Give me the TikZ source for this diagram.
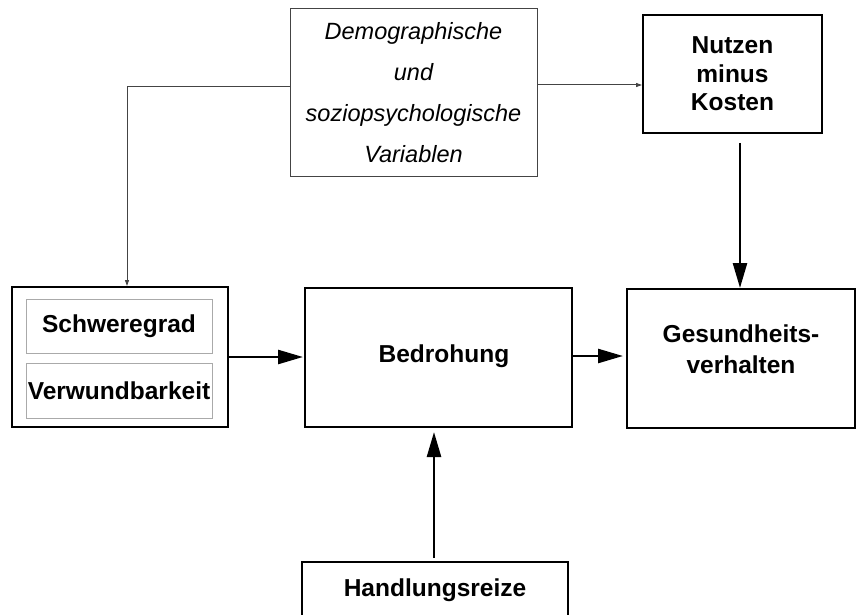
\documentclass[tikz,border=0pt]{standalone}
\usepackage{fontspec}
\setmainfont{Liberation Sans}
\usetikzlibrary{arrows.meta,calc}
\definecolor{thinline}{HTML}{444444}
\definecolor{innerline}{HTML}{AAAAAA}
\tikzset{
  thickbox/.style={draw=black,line width=2pt,inner sep=0pt,align=center,font=\fontsize{24.5}{30}\selectfont\bfseries},
  thinbox/.style={draw=thinline,line width=1pt,inner sep=0pt,align=center,font=\fontsize{23.5}{41}\selectfont\itshape},
  innerbox/.style={draw=innerline,line width=1pt,inner sep=0pt,align=center,font=\fontsize{24.5}{30}\selectfont\bfseries},
  bigarrow/.style={line width=2.5pt,-{Triangle[length=25pt,width=14pt]}},
  smallarrow/.style={draw=thinline,line width=1pt,-{Triangle[length=6pt,width=4pt]}}
}
\begin{document}
\begin{tikzpicture}[x=1pt,y=-1pt]
\useasboundingbox (0,0) rectangle (857,615);
\clip (0,0) rectangle (857,615);
\fill[white] (0,0) rectangle (857,615);
% nodes
\node[thinbox,minimum width=247pt,minimum height=168pt] (demo) at (413.5,93)
  {Demographische\\und\\soziopsychologische\\Variablen};
\node[thickbox,minimum width=179pt,minimum height=118pt,font=\fontsize{24.5}{28.5}\selectfont\bfseries] (nutzen) at (732.5,74)
  {Nutzen\\minus\\Kosten};
\node[thickbox,minimum width=216pt,minimum height=140pt] (left) at (120,357) {};
\node[innerbox,minimum width=186pt,minimum height=54pt] (schwere) at (119,326) {Schweregrad};
\node[innerbox,minimum width=186pt,minimum height=55pt] (verwund) at (119,390.5) {Verwundbarkeit};
\node[thickbox,minimum width=267pt,minimum height=139pt] (bedro) at (438.5,357.5) {};
\node[font=\fontsize{24.5}{30}\selectfont\bfseries,inner sep=0pt] (bedrotext) at (444,356) {Bedrohung};
\node[thickbox,minimum width=228pt,minimum height=139pt,font=\fontsize{24.5}{31}\selectfont\bfseries] (gesund) at (741,358.5) {};
\node[font=\fontsize{24.5}{31}\selectfont\bfseries,inner sep=0pt,align=center] (gesundtext) at (741,349) {Gesundheits-\\verhalten};
\node[thickbox,minimum width=266pt,minimum height=56pt] (handl) at (435,590) {Handlungsreize};
% thin connectors
\coordinate (corner) at (127,87);
\draw[smallarrow] ([yshift=6pt]demo.west) -- (corner) -- (corner |- left.north);
\draw[smallarrow] ([yshift=8pt]demo.east) -- ([yshift=8pt]demo.east -| nutzen.west);
% thick connectors
\coordinate (nstart) at (740,143);
\draw[bigarrow] (nstart) -- (nstart |- gesund.north);
\draw[bigarrow,shorten >=1pt] (left.east |- 0,357) -- (bedro.west |- 0,357);
\draw[bigarrow,shorten >=3pt] (bedro.east |- 0,356) -- (gesund.west |- 0,356);
\coordinate (hstart) at (434,558);
\draw[bigarrow,shorten >=4pt] (hstart) -- (hstart |- bedro.south);
\end{tikzpicture}
\end{document}
